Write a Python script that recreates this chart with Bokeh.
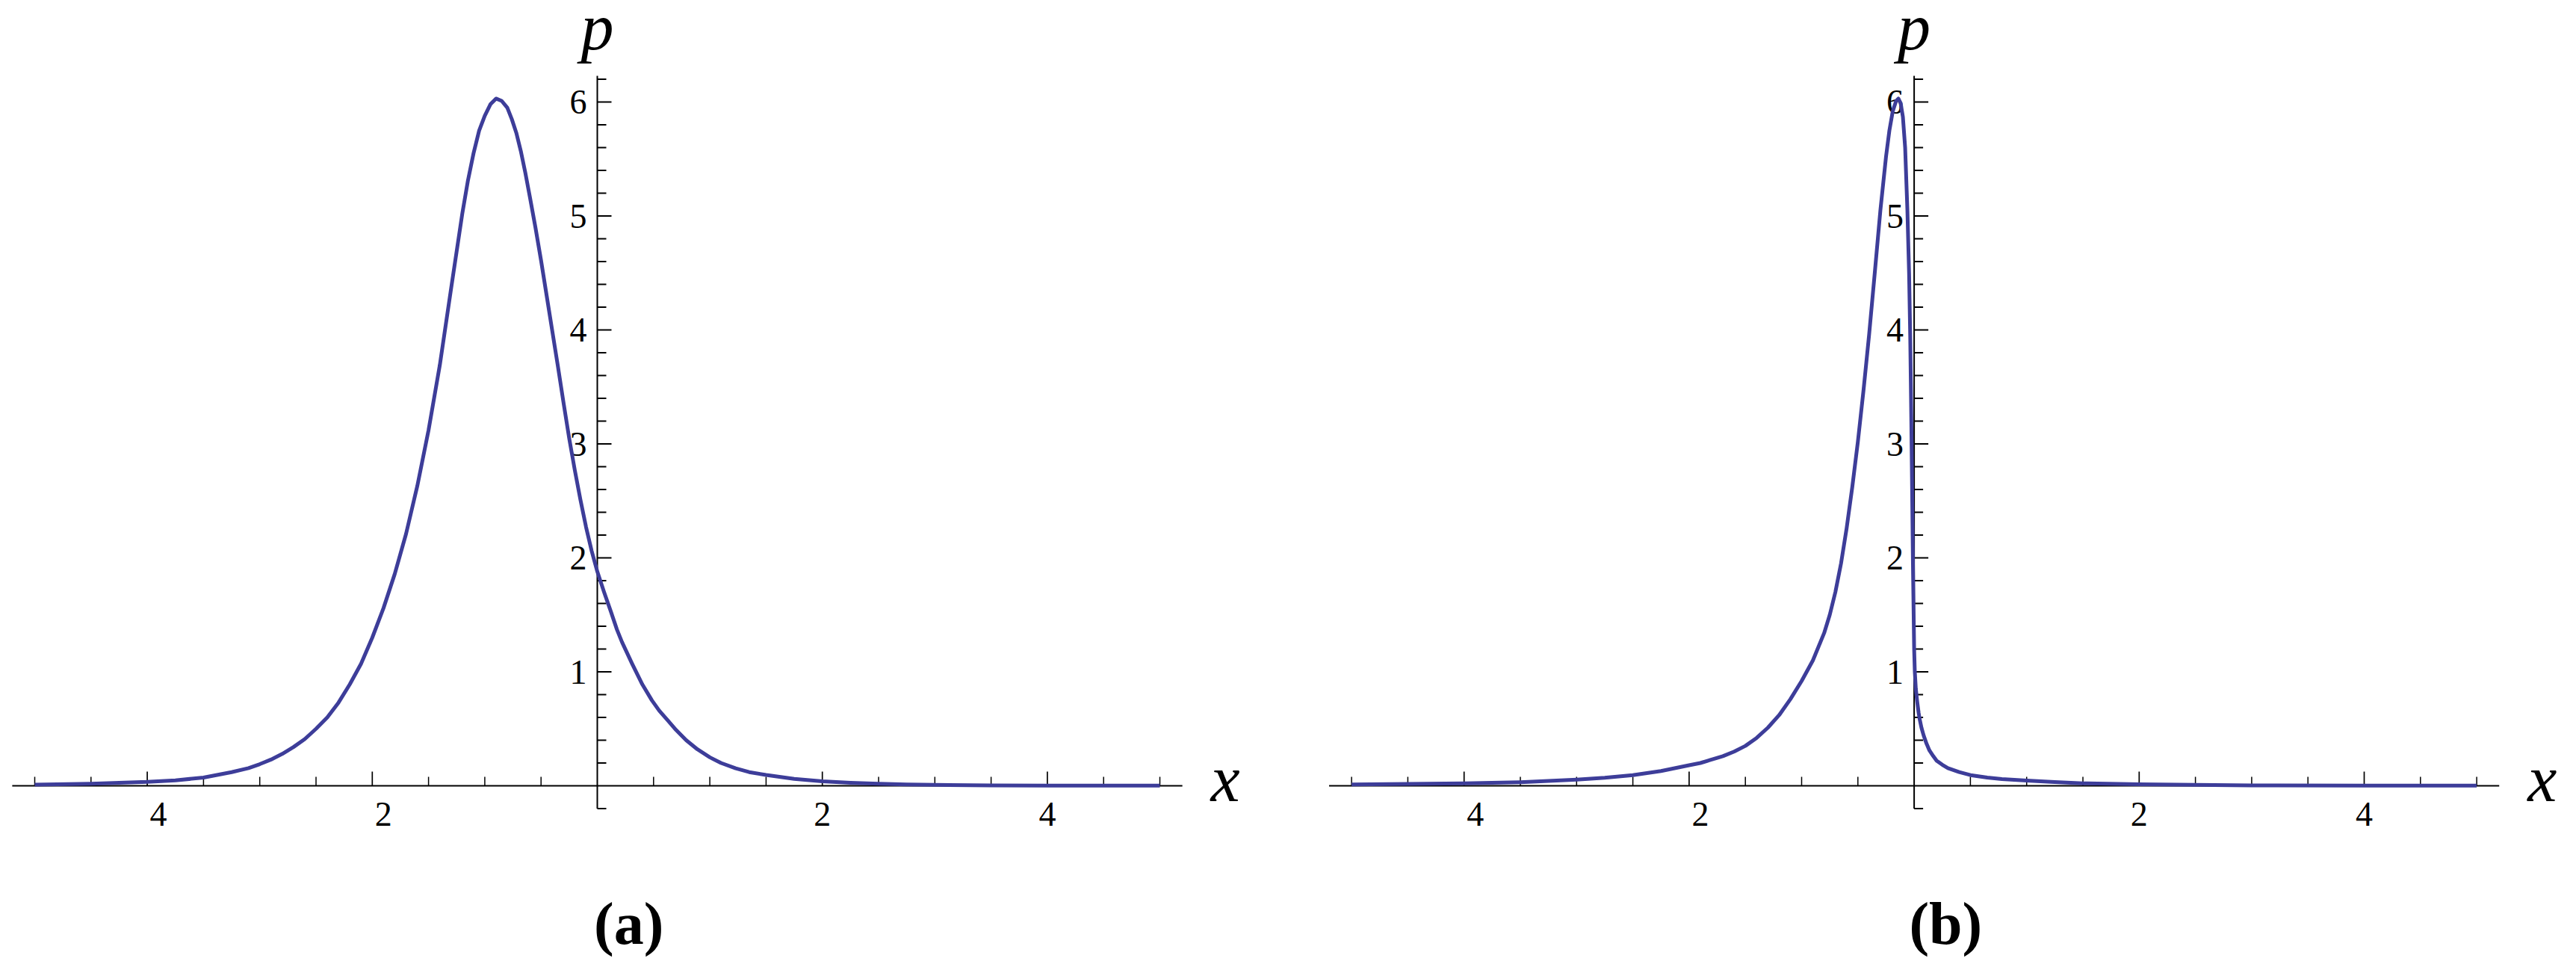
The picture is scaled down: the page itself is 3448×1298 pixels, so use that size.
from bokeh.plotting import figure
from bokeh.layouts import row
from bokeh.models import ColumnDataSource
from bokeh.core.properties import value
from bokeh.embed import file_html
from bokeh.resources import INLINE

# ---------------- data ----------------
XA = [-5.0, -4.5, -4.0, -3.75, -3.5, -3.25, -3.1, -3.0, -2.9, -2.8, -2.7, -2.6, -2.5,
      -2.4, -2.3, -2.2, -2.1, -2.0, -1.9, -1.8, -1.7, -1.6, -1.5, -1.4, -1.3, -1.2,
      -1.15, -1.1, -1.05, -1.0, -0.95, -0.90, -0.85, -0.80, -0.76, -0.72, -0.68,
      -0.64, -0.60, -0.55, -0.50, -0.45, -0.40, -0.35, -0.30, -0.25, -0.20, -0.15,
      -0.10, -0.05, 0.0, 0.06, 0.12, 0.175, 0.22, 0.31, 0.40, 0.485, 0.55, 0.63,
      0.70, 0.79, 0.89, 1.0, 1.1, 1.23, 1.35, 1.5, 1.75, 2.0, 2.25, 2.5, 2.75, 3.0,
      3.5, 4.0, 4.5, 5.0]
PA = [0.010, 0.018, 0.034, 0.048, 0.072, 0.12, 0.155, 0.19, 0.23, 0.28, 0.34, 0.41, 0.50,
      0.60, 0.73, 0.89, 1.07, 1.30, 1.56, 1.86, 2.21, 2.63, 3.12, 3.69, 4.36, 5.02,
      5.31, 5.55, 5.75, 5.88, 5.98, 6.03, 6.01, 5.95, 5.85, 5.73, 5.57,
      5.38, 5.17, 4.90, 4.61, 4.30, 3.99, 3.68, 3.36, 3.05, 2.77, 2.51,
      2.27, 2.06, 1.88, 1.70, 1.53, 1.37, 1.26, 1.07, 0.89, 0.75, 0.66, 0.57,
      0.49, 0.40, 0.32, 0.25, 0.20, 0.153, 0.12, 0.095, 0.060, 0.040, 0.027, 0.018, 0.012, 0.008,
      0.004, 0.002, 0.0015, 0.001]

XB = [-5.0, -4.5, -4.0, -3.5, -3.0, -2.75, -2.5, -2.25, -2.0, -1.9, -1.8, -1.7, -1.6,
      -1.5, -1.4, -1.3, -1.2, -1.1, -1.0, -0.9, -0.8, -0.75, -0.7, -0.65, -0.6, -0.55,
      -0.5, -0.45, -0.4, -0.35, -0.30, -0.25, -0.22, -0.19, -0.16, -0.14, -0.12, -0.10,
      -0.08, -0.06, -0.045, -0.035, -0.025, -0.018, -0.01, 0.0, 0.006, 0.015, 0.027,
      0.04, 0.05, 0.065, 0.085, 0.11, 0.136, 0.17, 0.2, 0.25, 0.3, 0.4, 0.5, 0.65,
      0.78, 1.0, 1.25, 1.5, 2.0, 2.5, 3.0, 4.0, 5.0]
PB = [0.012, 0.016, 0.022, 0.031, 0.054, 0.070, 0.093, 0.13, 0.18, 0.20, 0.23, 0.26, 0.30,
      0.35, 0.42, 0.51, 0.62, 0.76, 0.92, 1.10, 1.34, 1.50, 1.70, 1.95, 2.26, 2.62,
      3.02, 3.47, 3.96, 4.50, 5.05, 5.52, 5.75, 5.92, 6.01, 6.03, 5.99, 5.87,
      5.60, 5.05, 4.50, 3.95, 3.20, 2.60, 1.90, 1.20, 1.00, 0.85, 0.74,
      0.64, 0.58, 0.51, 0.44, 0.37, 0.31, 0.26, 0.22, 0.185, 0.155, 0.12, 0.094, 0.072,
      0.059, 0.046, 0.032, 0.022, 0.013, 0.008, 0.004, 0.002, 0.001]

X_MAJOR = [-4, -2, 2, 4]
X_TICK_LABELS = ["4", "2", "2", "4"]
X_MINOR = [-5, -4.5, -3.5, -3, -2.5, -1.5, -1, -0.5, 0.5, 1, 1.5, 2.5, 3, 3.5, 4.5, 5]
Y_MAJOR = [1, 2, 3, 4, 5, 6]
Y_TICK_LABELS = ["1", "2", "3", "4", "5", "6"]
Y_MINOR = [-0.2, 0.2, 0.4, 0.6, 0.8, 1.2, 1.4, 1.6, 1.8, 2.2, 2.4, 2.6, 2.8,
           3.2, 3.4, 3.6, 3.8, 4.2, 4.4, 4.6, 4.8, 5.2, 5.4, 5.6, 5.8, 6.2]
PANEL_LABELS = ["(a)", "(b)"]

# ---------------- layout constants ----------------
W, H = 1716, 1282
XS = 150.6    # px per x unit
YS = 152.5    # px per p unit
Y0, Y1 = -231 / YS, 1051 / YS
XA_START = (8 - 807) / XS
XB_START = (1724 - 2569.6) / XS
X_AX_MIN, X_AX_MAX = -5.2, 5.2
Y_AX_MIN, Y_AX_MAX = -0.2, 6.23

CURVE = "#3d3d99"
SERIF = "Liberation Serif"


def panel(x_start, xs, ps, label):
    p = figure(width=W, height=H, x_range=(x_start, x_start + W / XS),
               y_range=(Y0, Y1), output_backend="svg", toolbar_location=None,
               x_axis_type=None, y_axis_type=None, min_border=0)
    p.min_border_left = p.min_border_right = p.min_border_top = p.min_border_bottom = 0
    p.outline_line_color = None
    p.background_fill_color = "white"
    p.border_fill_color = "white"
    p.xgrid.visible = False
    p.ygrid.visible = False

    # axes lines
    p.segment(x0=[X_AX_MIN], y0=[0], x1=[X_AX_MAX], y1=[0], line_color="black", line_width=2)
    p.segment(x0=[0], y0=[Y_AX_MIN], x1=[0], y1=[Y_AX_MAX], line_color="black", line_width=2)

    # x ticks (pointing up)
    p.segment(x0=X_MAJOR, y0=[0] * len(X_MAJOR), x1=X_MAJOR, y1=[19 / YS] * len(X_MAJOR),
              line_color="black", line_width=1.7)
    p.segment(x0=X_MINOR, y0=[0] * len(X_MINOR), x1=X_MINOR, y1=[12 / YS] * len(X_MINOR),
              line_color="black", line_width=1.5)
    # y ticks (pointing right)
    p.segment(x0=[0] * len(Y_MAJOR), y0=Y_MAJOR, x1=[19 / XS] * len(Y_MAJOR), y1=Y_MAJOR,
              line_color="black", line_width=2)
    p.segment(x0=[0] * len(Y_MINOR), y0=Y_MINOR, x1=[12 / XS] * len(Y_MINOR), y1=Y_MINOR,
              line_color="black", line_width=2)

    # tick labels
    xsrc = ColumnDataSource(dict(x=X_MAJOR, y=[-38 / YS] * len(X_MAJOR), t=X_TICK_LABELS,
                                 xo=[15 if v < 0 else 0 for v in X_MAJOR]))
    p.text(x="x", y="y", text="t", x_offset="xo", source=xsrc, text_align="center",
           text_baseline="middle", text_font=value(SERIF), text_font_size="46px",
           text_color="black")
    ysrc = ColumnDataSource(dict(x=[0] * len(Y_MAJOR), y=Y_MAJOR, t=Y_TICK_LABELS))
    p.text(x="x", y="y", text="t", x_offset=-14, source=ysrc, text_align="right",
           text_baseline="middle", text_font=value(SERIF), text_font_size="46px",
           text_color="black")

    # axis labels (vertical centres of the glyphs)
    p.text(x=[0], y=[(1059 - 44) / YS], text=["p"], text_align="center", text_baseline="middle",
           text_font=value(SERIF), text_font_style="italic", text_font_size="88px",
           text_color="black")
    p.text(x=[X_AX_MAX + 38 / XS], y=[(1059 - 1050) / YS], text=["x"], text_align="left",
           text_baseline="middle", text_font=value(SERIF), text_font_style="italic",
           text_font_size="88px", text_color="black")

    # curve
    p.line(xs, ps, line_color=CURVE, line_width=5, line_join="round")

    # panel label
    p.text(x=[0.28], y=[(1059 - 1243) / YS], text=[label], text_align="center",
           text_baseline="middle", text_font=value(SERIF), text_font_style="bold",
           text_font_size="80px", text_color="black")
    return p


pa = panel(XA_START, XA, PA, PANEL_LABELS[0])
pb = panel(XB_START, XB, PB, PANEL_LABELS[1])
layout = row(pa, pb)

open("out.html", "w").write(file_html(layout, INLINE))
